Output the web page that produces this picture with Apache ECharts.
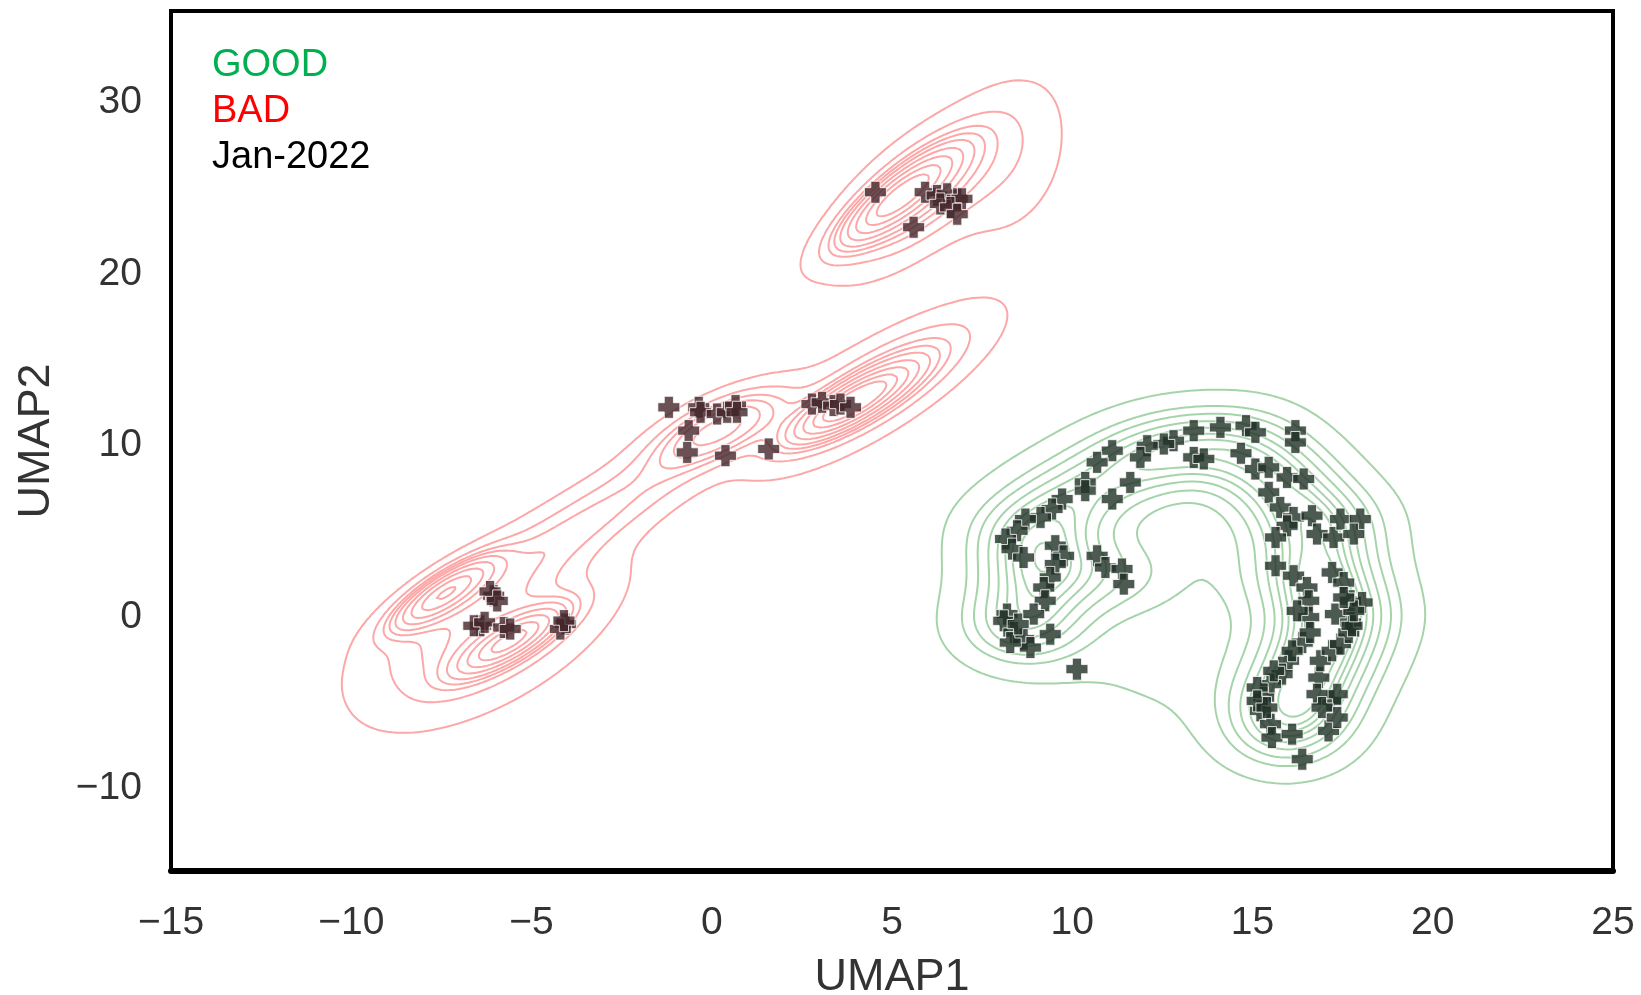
<!DOCTYPE html>
<html>
<head>
<meta charset="utf-8">
<script src="https://cdn.jsdelivr.net/npm/echarts/dist/echarts.min.js"></script>
<style>html,body{margin:0;padding:0;background:#fff}#chart{width:1641px;height:995px}</style>
</head>
<body>
<div id="chart"></div>
<script>
// ---------------- data ----------------
const X_TICKS = [-15, -10, -5, 0, 5, 10, 15, 20, 25];
const Y_TICKS = [-10, 0, 10, 20, 30];
const LEGEND_LABELS = ['GOOD', 'BAD', 'Jan-2022'];

// Jan-2022 points lying on the BAD density
const JAN_POINTS_BAD_AREA = [
  [4.54,24.78],[5.60,22.74],[5.92,24.78],[6.25,24.59],[6.53,24.69],[6.81,24.40],[6.94,24.40],[6.34,24.10],[6.62,23.90],[6.81,23.50],
  [-1.19,12.24],[-0.36,12.24],[-0.31,11.95],[0.15,11.85],[0.43,11.95],[0.66,12.34],[0.70,11.95],[-0.64,10.88],[-0.68,9.61],[0.38,9.42],[1.58,9.81],
  [2.78,12.43],[3.06,12.53],[3.38,12.34],[3.57,12.43],[3.85,12.24],
  [-6.05,1.25],[-6.15,1.50],[-5.95,0.95],[-6.42,-0.50],[-6.60,-0.50],[-6.30,-0.30],[-5.77,-0.60],[-5.59,-0.69],[-4.06,-0.40],[-4.20,-0.69],[-4.10,-0.20]
];

// Jan-2022 points lying on the GOOD density
const JAN_POINTS_GOOD_AREA = [
  [13.37,10.88],[14.11,11.07],[14.82,11.17],[12.81,10.29],[12.54,10.10],[12.08,10.00],[11.89,9.32],[11.11,9.71],[10.69,9.03],[13.37,9.32],[13.65,9.23],[14.68,9.56],
  [11.61,7.86],[10.36,7.86],[10.36,7.38],[11.11,6.89],[9.72,6.89],[9.44,6.31],[9.12,5.82],[8.70,5.72],[8.47,5.04],[8.15,4.56],[8.33,3.97],[8.65,3.48],
  [9.53,4.17],[9.76,3.58],[9.53,3.10],[9.39,2.32],[9.21,1.73],[9.25,0.96],[8.93,0.18],[8.19,0.18],[10.69,3.58],[10.92,2.90],[11.38,2.81],[11.43,1.93],
  [8.10,-0.21],[8.38,-0.89],[8.65,-1.28],[8.84,-1.77],[8.28,-1.48],[9.39,-0.99],[8.50,-0.40],[10.13,-3.03],
  [15.08,10.78],[16.19,10.88],[16.19,10.19],[15.08,8.64],[15.45,8.74],[15.96,8.15],[16.42,8.06],[15.45,7.28],[15.77,6.40],[16.14,5.82],[16.65,5.92],
  [15.96,5.33],[15.64,4.65],[16.79,4.85],[17.25,4.65],[17.44,5.72],[17.99,5.72],[17.81,4.85],[15.64,3.00],[16.14,2.42],[16.51,1.73],[17.21,2.61],
  [17.53,2.02],[17.72,0.96],[18.04,0.86],[16.56,0.96],[16.56,0.00],[17.30,0.18],[17.72,-0.31],
  [16.38,-1.48],[16.00,-2.54],[15.82,-3.32],[15.50,-3.90],[15.31,-4.69],[15.22,-5.46],[15.50,-6.24],[15.54,-7.02],[16.10,-6.82],[16.38,-8.28],
  [17.11,-6.63],[17.16,-4.88],[17.35,-4.49],[16.84,-3.52],[16.88,-2.54],[17.21,-1.96],[17.44,-1.57],[17.67,-0.89],[17.76,-0.50],[17.81,0.37],
  [17.53,1.15],[16.24,0.37],[16.60,-0.89],[16.10,-1.96],[15.59,-3.13],[15.13,-4.10],[15.13,-4.88],[15.40,-5.27],[16.79,-4.49],[16.93,-5.27],[17.35,-5.85]
];

// density components estimated from the contours: [cx, cy, spread along axis, spread across, axis angle (deg, on screen), weight]
const BAD_COMPONENTS = [
  [5.2, 24.5, 1.2, 0.34, 38, 1.0],
  [5.8, 24.8, 1.7, 0.72, 40, 1.1],
  [8.3, 26.6, 1.5, 1.0, 70, 0.3],
  [3.9, 12.5, 1.1, 0.30, 30, 0.9],
  [4.5, 13.3, 2.0, 0.60, 32, 1.1],
  [0.2, 11.0, 1.2, 0.45, 25, 0.6],
  [-3.3, 5.8, 3.2, 0.55, 32, 0.9],
  [-7.4, 1.4, 1.0, 0.30, 33, 0.7],
  [-5.6, -1.4, 1.0, 0.30, 30, 0.7],
  [-6.2, -0.9, 2.2, 1.0, 30, 1.5]
];
const GOOD_COMPONENTS = [
  [13.3, 3.5, 3.0, 2.0, 0, 3.0],
  [13.0, -3.5, 2.5, 1.2, 0, 0.6],
  [8.6, -0.5, 1.25, 0.8, 0, 1.2],
  [9.0, 2.5, 1.25, 0.8, 0, 1.0],
  [8.8, 5.0, 1.25, 0.8, 0, 1.0],
  [10.0, 7.0, 1.25, 0.8, 0, 0.8],
  [11.5, 8.8, 1.25, 0.8, 0, 0.8],
  [13.0, 9.9, 1.25, 0.8, 0, 0.9],
  [14.8, 10.2, 1.25, 0.8, 0, 0.8],
  [15.7, 8.0, 1.25, 0.8, 0, 1.0],
  [16.8, 5.5, 1.25, 0.8, 0, 1.2],
  [16.8, 2.5, 1.25, 0.8, 0, 1.2],
  [17.3, 0.0, 1.25, 0.8, 0, 1.2],
  [16.8, -2.5, 1.25, 0.8, 0, 1.2],
  [16.2, -5.0, 1.25, 0.8, 0, 1.2],
  [15.9, -7.0, 1.25, 0.8, 0, 0.8],
  [11.0, 2.5, 1.25, 0.8, 0, 0.5]
];
// iso-proportion levels (seaborn default: 10 levels from thresh 0.05)
const CONTOUR_PROPS = [0.05, 0.1556, 0.2611, 0.3667, 0.4722, 0.5778, 0.6833, 0.7889, 0.8944];

// ---------------- contour computation ----------------
const X_MIN = -15, X_MAX = 25, Y_MIN = -14.8, Y_MAX = 35.35;
const ASPECT = 0.477; // screen px per y unit / screen px per x unit

function makeAxis(a, b, n) { const r = []; for (let k = 0; k < n; k++) r.push(a + (b - a) * k / (n - 1)); return r; }
const GX = makeAxis(X_MIN, X_MAX, 321);
const GY = makeAxis(Y_MIN, Y_MAX, 401);

function density(comps, xs, ys) {
  const nx = xs.length, ny = ys.length, out = new Float64Array(nx * ny);
  for (const c of comps) {
    const [cx, cy, s1, s2, ang, w] = c;
    const ca = Math.cos(ang * Math.PI / 180), sa = Math.sin(ang * Math.PI / 180);
    const norm = w / (s1 * s2), reach = 4.5 * Math.max(s1, s2);
    for (let j = 0; j < ny; j++) {
      const dv = (ys[j] - cy) * ASPECT;
      if (Math.abs(dv) > reach) continue;
      for (let i = 0; i < nx; i++) {
        const du = xs[i] - cx;
        if (Math.abs(du) > reach) continue;
        const a = du * ca + dv * sa, b = -du * sa + dv * ca;
        out[j * nx + i] += norm * Math.exp(-0.5 * (a * a / (s1 * s1) + b * b / (s2 * s2)));
      }
    }
  }
  return out;
}

function isoLevels(vals, props) {
  const sorted = Array.from(vals).sort((a, b) => b - a);
  let total = 0; for (const v of sorted) total += v;
  const cums = new Float64Array(sorted.length); let cum = 0;
  for (let k = 0; k < sorted.length; k++) { cum += sorted[k]; cums[k] = cum / total; }
  return props.map(p => {
    const target = 1 - p; let lo = 0, hi = cums.length - 1;
    while (lo < hi) { const m = (lo + hi) >> 1; if (cums[m] < target) lo = m + 1; else hi = m; }
    return sorted[lo];
  });
}

function marching(vals, xs, ys, level) {
  const nx = xs.length, ny = ys.length, OFF = nx * ny;
  const pts = new Map(), segs = [];
  const V = (i, j) => vals[j * nx + i];
  const hp = (i, j) => { const id = j * nx + i; if (!pts.has(id)) { const a = V(i, j), b = V(i + 1, j), t = (level - a) / (b - a); pts.set(id, [xs[i] + t * (xs[i + 1] - xs[i]), ys[j]]); } return id; };
  const vp = (i, j) => { const id = OFF + j * nx + i; if (!pts.has(id)) { const a = V(i, j), b = V(i, j + 1), t = (level - a) / (b - a); pts.set(id, [xs[i], ys[j] + t * (ys[j + 1] - ys[j])]); } return id; };
  for (let j = 0; j < ny - 1; j++) {
    for (let i = 0; i < nx - 1; i++) {
      const v0 = V(i, j), v1 = V(i + 1, j), v2 = V(i + 1, j + 1), v3 = V(i, j + 1);
      const c = (v0 > level ? 1 : 0) | (v1 > level ? 2 : 0) | (v2 > level ? 4 : 0) | (v3 > level ? 8 : 0);
      if (c === 0 || c === 15) continue;
      const e0 = () => hp(i, j), e1 = () => vp(i + 1, j), e2 = () => hp(i, j + 1), e3 = () => vp(i, j);
      const center = (v0 + v1 + v2 + v3) / 4 > level;
      switch (c) {
        case 1: case 14: segs.push([e3(), e0()]); break;
        case 2: case 13: segs.push([e0(), e1()]); break;
        case 3: case 12: segs.push([e3(), e1()]); break;
        case 4: case 11: segs.push([e1(), e2()]); break;
        case 6: case 9: segs.push([e0(), e2()]); break;
        case 7: case 8: segs.push([e3(), e2()]); break;
        case 5:
          if (center) { segs.push([e0(), e1()]); segs.push([e2(), e3()]); }
          else { segs.push([e3(), e0()]); segs.push([e1(), e2()]); }
          break;
        case 10:
          if (center) { segs.push([e3(), e0()]); segs.push([e1(), e2()]); }
          else { segs.push([e0(), e1()]); segs.push([e2(), e3()]); }
          break;
      }
    }
  }
  const adj = new Map();
  segs.forEach((s, k) => { for (const e of s) { if (!adj.has(e)) adj.set(e, []); adj.get(e).push(k); } });
  const used = new Uint8Array(segs.length), lines = [];
  const walk = (start, out) => {
    let cur = start;
    for (;;) {
      let nk = -1;
      for (const m of adj.get(cur)) if (!used[m]) { nk = m; break; }
      if (nk < 0) break;
      used[nk] = 1;
      const s = segs[nk], nxt = s[0] === cur ? s[1] : s[0];
      out.push(nxt); cur = nxt;
    }
  };
  for (let k = 0; k < segs.length; k++) {
    if (used[k]) continue;
    used[k] = 1;
    const fwd = [segs[k][0], segs[k][1]]; walk(segs[k][1], fwd);
    const back = []; walk(segs[k][0], back);
    const chain = back.reverse().concat(fwd);
    lines.push(chain.map(id => pts.get(id)));
  }
  return lines;
}

function contourData(comps) {
  const vals = density(comps, GX, GY);
  const levels = isoLevels(vals, CONTOUR_PROPS);
  const data = [];
  for (const lv of levels) for (const line of marching(vals, GX, GY, lv)) data.push({ coords: line });
  return data;
}

const goodContours = contourData(GOOD_COMPONENTS);
const badContours = contourData(BAD_COMPONENTS);

// ---------------- chart ----------------
const FONT = 'Liberation Sans, Arial, sans-serif';
const fmtMinus = v => (v < 0 ? '\u2212' + Math.abs(v) : String(v));
const plusSymbol = 'path://M3.5,0H8.5V3.5H12V8.5H8.5V12H3.5V8.5H0V3.5H3.5Z';

const chart = echarts.init(document.getElementById('chart'), null, { renderer: 'canvas' });
chart.setOption({
  animation: false,
  backgroundColor: '#ffffff',
  grid: { left: 171, right: 28, top: 11, bottom: 124, show: true, borderColor: '#000', borderWidth: 4, containLabel: false, outerBoundsMode: 'none' },
  legend: {
    orient: 'vertical', left: 201, top: 42, itemWidth: 0, itemHeight: 0, itemGap: 8, selectedMode: false,
    textStyle: { fontFamily: FONT, fontSize: 38, lineHeight: 38 },
    data: [
      { name: LEGEND_LABELS[0], textStyle: { color: '#00b050' } },
      { name: LEGEND_LABELS[1], textStyle: { color: '#ff0000' } },
      { name: LEGEND_LABELS[2], textStyle: { color: '#000000' } }
    ]
  },
  xAxis: {
    type: 'value', min: X_MIN, max: X_MAX, interval: 5,
    name: 'UMAP1', nameLocation: 'middle', nameGap: 84,
    nameTextStyle: { fontFamily: FONT, fontSize: 45, color: '#333' },
    axisLine: { show: true, onZero: false, lineStyle: { color: '#000', width: 6 } },
    axisTick: { show: false }, splitLine: { show: false },
    axisLabel: { margin: 33, fontFamily: FONT, fontSize: 39, color: '#333', formatter: v => fmtMinus(v) }
  },
  yAxis: {
    type: 'value', min: Y_MIN, max: Y_MAX,
    name: 'UMAP2', nameLocation: 'middle', nameGap: 112,
    nameTextStyle: { fontFamily: FONT, fontSize: 45, color: '#333' },
    axisLine: { show: false }, axisTick: { show: false, customValues: Y_TICKS }, splitLine: { show: false },
    axisLabel: { margin: 29, fontFamily: FONT, fontSize: 39, color: '#333', customValues: Y_TICKS, formatter: v => fmtMinus(v) }
  },
  series: [
    { name: LEGEND_LABELS[0], type: 'lines', coordinateSystem: 'cartesian2d', polyline: true, silent: true, z: 2,
      lineStyle: { color: '#a6d4aa', width: 2, opacity: 1 }, data: goodContours },
    { name: LEGEND_LABELS[1], type: 'lines', coordinateSystem: 'cartesian2d', polyline: true, silent: true, z: 2,
      lineStyle: { color: '#fca8a8', width: 2, opacity: 1 }, data: badContours },
    { name: LEGEND_LABELS[2], type: 'scatter', z: 3, symbol: plusSymbol, symbolSize: 22,
      itemStyle: { color: '#43252b', borderColor: '#ffffff', borderWidth: 1 }, data: JAN_POINTS_BAD_AREA },
    { name: LEGEND_LABELS[2], type: 'scatter', z: 3, symbol: plusSymbol, symbolSize: 22,
      itemStyle: { color: '#213127', borderColor: '#ffffff', borderWidth: 1 }, data: JAN_POINTS_GOOD_AREA }
  ]
});
</script>
</body>
</html>
